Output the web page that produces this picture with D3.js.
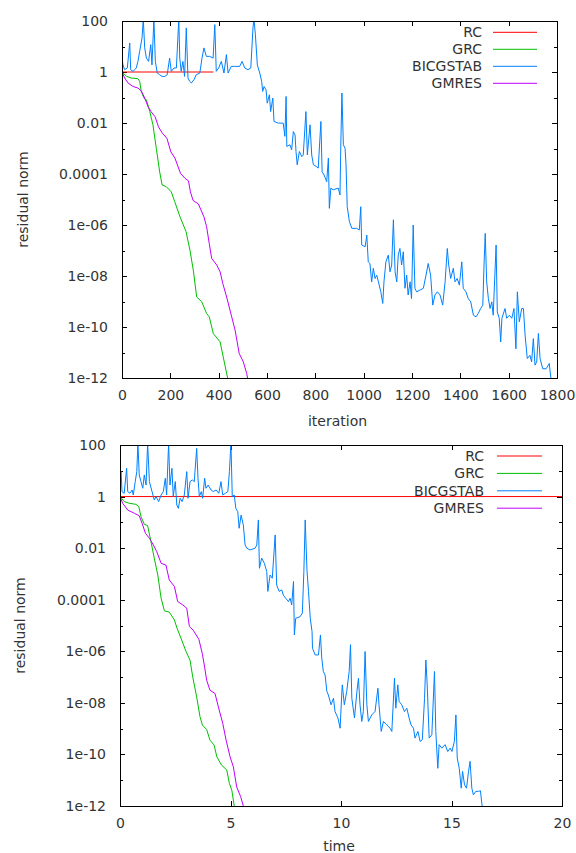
<!DOCTYPE html>
<html><head><meta charset="utf-8">
<script src="https://cdn.jsdelivr.net/npm/d3@7"></script>
<style>
body{margin:0;background:#fff}
svg{display:block}
</style>
</head><body>
<svg id="chart" width="576" height="853"></svg>
<script>
// ---------- DATA ----------
const seriesNames = ["RC","GRC","BICGSTAB","GMRES"];
const iterTicks = [0,200,400,600,800,1000,1200,1400,1600,1800];
const timeTicks = [0,5,10,15,20];
const yTickValues = [1e2,1e1,1,1e-1,1e-2,1e-3,1e-4,1e-5,1e-6,1e-7,1e-8,1e-9,1e-10,1e-11,1e-12];
const yLabelValues = [1e2,1,1e-2,1e-4,1e-6,1e-8,1e-10,1e-12];
const yLabelText = ["100","1","0.01","0.0001","1e-06","1e-08","1e-10","1e-12"];

// residual vs iteration
const rcIter = [0,378];
const rcIterRes = [1,1];
const grcIter = [0,18,38,66,73,80,91,101,115,128,142,156,166,183,204,218,240,265,281,295,309,330,350,361,378,406,419,437,445];
const grcIterRes = [1,0.68,0.58,0.55,0.43,0.17,0.095,0.081,0.028,8.5e-3,1e-3,1.2e-4,3.7e-5,3.2e-5,2e-5,8.3e-6,2.1e-6,5.5e-7,1.05e-7,1.7e-8,1.5e-9,9.7e-10,3.4e-10,2.5e-10,5.5e-11,2.6e-11,6.6e-12,1e-12,5e-13];
const bicgIter = [0,4,11,22,32,36,46,59,66,73,83,88,94,101,110,119,124,132,138,146,156,166,177,187,197,204,215,225,235,239,245,252,259,266,273,280,287,298,307,322,331,339,349,363,377,384,390,400,411,422,432,439,452,466,487,497,508,521,533,542,546,552,560,570,
578,582,588,596,601,610,615,624,629,647,667,674,679,682,695,702,709,716,720,725,734,744,750,761,767,778,785,792,803,812,823,828,836,847,854,858,864,874,895,902,906,910,916,923,927,932,941,951,971,982,988,992,1006,1013,1019,1026,1033,1040,1047,1054,1061,1071,1079,1084,1092,1102,1109,1116,1123,1130,1137,1143,1150,1157,1164,1171,1178,1184,1192,1198,1205,1212,1219,1233,1247,1258,1267,1277,1286,1295,1305,1316,1327,1337,1346,1352,1360,1371,1378,1387,1396,1406,1412,1423,1433,1443,1454,1465,1474,1484,1493,1498,1503,1509,1516,1523,1530,1536,1548,1553,1561,1567,1572,1585,1592,1603,1613,1622,1630,1636,1644,1654,1661,1668,1677,1688,1695,1702,1709,1716,1723,1730,1741,1755,1768,1774,1779];
const bicgIterRes = [3.5,1.9,1.23,1.44,13.8,1.23,1.06,1.44,2.6,6.4,21.7,120,8.8,3.5,2.6,11.8,1.9,120,2.6,0.91,0.78,0.67,0.67,0.78,3.5,1.06,1.44,1.44,120,3.5,1.06,2.6,0.67,53.6,0.58,0.43,0.37,0.5,0.78,0.91,3.5,8.8,4.1,4.1,3.5,72,1.06,1.44,2.6,0.91,4.8,0.91,1.66,1.66,1.66,2.6,1.44,1.23,1.44,53.6,120,29,1.9,0.91,
0.43,0.173,0.27,0.2,0.06,0.128,0.028,0.095,0.0115,0.0099,0.0099,0.003,0.11,0.0012,0.0014,8.9e-4,4.6e-3,3.4e-3,7.6e-4,2.3e-4,7.6e-4,4.8e-4,5.6e-4,0.028,5.6e-4,8.5e-3,5.6e-4,2.3e-4,2e-4,1.7e-4,0.0115,1.24e-4,9.2e-5,5e-5,4.2e-4,4.5e-6,2.8e-5,2.4e-5,2.8e-5,1.5e-5,2.6e-3,0.15,1.4e-3,1.03e-3,2.3e-4,5.2e-6,1.35e-6,7.4e-7,7.4e-7,6.4e-7,5.2e-6,1.64e-7,1.4e-7,4e-7,3.6e-8,3.1e-8,5.9e-9,2e-8,8e-9,1.08e-8,5.9e-9,2.4e-9,8.4e-10,5.9e-9,3.6e-8,6.6e-8,1.46e-8,2.7e-8,1.6e-6,1.46e-8,5.9e-9,6.6e-8,1.2e-7,2.7e-8,8.9e-8,3.3e-9,1.08e-8,1.8e-9,5.9e-9,1.3e-9,1e-6,3.3e-9,2.4e-9,2.8e-9,3.3e-9,1.08e-8,3.1e-8,1.08e-8,7.2e-10,1.8e-9,2.4e-9,1.8e-9,7.2e-10,5.9e-9,1.2e-7,2.7e-8,8e-9,2e-8,5.9e-9,8e-9,4.4e-9,3.6e-8,3.3e-9,2.4e-9,1.3e-9,9.7e-10,2.9e-10,2.5e-10,3.4e-10,5.3e-10,7.2e-10,2.7e-8,4.7e-7,5.9e-9,1.3e-9,5.3e-10,9.7e-10,2.9e-10,1.64e-7,3.9e-10,2.2e-10,2.6e-11,2.2e-10,5.3e-10,2.2e-10,2.9e-10,2.2e-10,5.3e-10,1.4e-11,2.4e-9,1.6e-10,5.3e-10,5.3e-10,4.8e-11,5.8e-12,7.8e-12,4.3e-12,3.5e-11,3.2e-12,4.3e-12,5.6e-11,5.8e-12,2.3e-12,2.3e-12,3.7e-12,1.1e-12,8e-13];
const gmresIter = [0,11,25,46,66,80,94,108,120,137,151,166,186,202,219,242,261,275,283,294,316,339,350,361,371,392,406,417,433,454,468,485,502,516,520,528];
const gmresIterRes = [1,0.58,0.37,0.27,0.235,0.18,0.095,0.043,0.028,0.0175,7.1e-3,4.1e-3,2.5e-3,7.4e-4,4.2e-4,1.07e-4,6.7e-5,5.4e-5,2e-5,9.2e-6,6.7e-6,2.1e-6,8.6e-7,1.9e-7,4.9e-8,2.7e-8,1.46e-8,5.1e-9,1.5e-9,2.5e-10,7.5e-11,9.1e-12,4.3e-12,1.5e-12,9.6e-13,5e-13];

// residual vs time
const rcTime = [0,20];
const rcTimeRes = [1,1];
const grcTime = [0,0.19,0.42,0.72,0.85,0.95,1.1,1.25,1.4,1.55,1.71,1.86,2.01,2.23,2.46,2.58,2.76,3.0,3.17,3.29,3.47,3.62,3.73,3.92,4.07,4.26,4.38,4.6,4.83,4.95,5.06,5.17,5.22];
const grcTimeRes = [1,0.64,0.55,0.5,0.41,0.168,0.084,0.075,0.018,4.1e-3,9.1e-4,1.14e-4,3.7e-5,3.3e-5,1.65e-5,7.9e-6,3.2e-6,9.2e-7,4.5e-7,1.02e-7,1.7e-8,2.9e-9,1.37e-9,9.3e-10,3.6e-10,2.3e-10,8.1e-11,3.8e-11,2.5e-11,7.5e-12,4.1e-12,1e-12,5e-13];
const bicgTime = [0,0.05,0.09,0.19,0.30,0.35,0.45,0.55,0.60,0.69,0.76,0.81,0.87,0.95,1.03,1.10,1.18,1.25,1.33,1.45,1.55,1.63,1.75,1.86,1.96,2.05,2.11,2.20,2.26,2.35,2.41,2.50,2.57,2.64,2.72,2.81,2.91,3.02,3.08,3.17,3.27,3.36,3.47,3.53,3.59,3.68,3.74,3.83,3.89,3.99,4.12,4.22,4.35,4.47,4.57,4.65,4.77,4.88,4.95,5.02,5.08,5.17,5.24,5.33,5.39,5.48,5.58,5.66,5.74,5.88,6.11,6.19,6.26,6.31,6.41,6.53,6.64,6.69,6.79,6.89,7.02,7.09,7.20,7.32,7.39,7.50,7.62,7.70,7.77,7.85,7.89,7.95,8.15,8.25,8.32,8.38,8.46,8.53,8.61,8.69,8.71,8.83,8.98,9.07,9.13,9.20,9.28,9.36,9.43,9.55,9.66,9.73,9.86,9.96,10.04,10.06,10.15,10.26,10.37,10.43,10.49,10.61,10.72,10.79,10.86,10.94,11.01,11.09,11.17,11.24,11.39,11.54,11.67,11.72,11.82,11.92,12.07,12.22,12.30,12.42,12.48,12.57,12.63,12.75,12.87,12.98,13.08,13.17,13.28,13.35,13.48,13.58,13.68,13.78,13.84,13.90,13.99,14.11,14.23,14.29,14.38,14.44,14.56,14.71,14.83,14.94,15.02,15.13,15.20,15.26,15.35,15.44,15.50,15.59,15.68,15.77,15.84,15.92,15.99,16.10,16.22,16.31,16.38,16.41];
const bicgTimeRes = [5.1,9.3,1.56,1.34,12.5,1.56,1.34,1.8,1.15,3.8,9.3,120,6.9,3.8,2.1,6.9,2.8,120,3.8,1.56,0.74,1.0,0.64,1.15,1.56,5.1,1.15,120,2.8,12.5,1.0,3.8,0.47,0.35,0.86,0.64,1.15,9.3,0.86,3.8,4.4,3.8,74,5.1,1.0,1.56,0.86,5.1,2.1,2.8,1.8,1.56,1.8,1.34,3.8,1.15,1.34,1.56,9.3,120,1.0,1.15,0.35,0.26,0.059,0.19,0.079,0.0133,0.0099,8.5e-3,0.0099,0.0133,0.124,1.66e-3,4.1e-3,2.6e-3,1.24e-3,2.1e-4,9.1e-4,6.8e-4,0.0325,3.7e-4,2.1e-4,2.4e-4,1.5e-4,1.14e-4,8.5e-5,1.14e-4,6.3e-5,5.1e-4,4.3e-6,1.9e-5,2.2e-5,3e-5,1.24e-3,0.124,1.43e-3,2.1e-4,1.9e-5,5.8e-6,1.32e-6,7.2e-7,7.2e-7,4.3e-6,5.4e-7,1.65e-7,1.2e-7,2.8e-8,2e-8,8.4e-9,1.5e-8,4.6e-9,2.6e-9,1.04e-9,2.8e-8,5e-8,8.4e-9,2.8e-8,1.65e-7,1.8e-6,1.5e-8,2.6e-9,2.8e-8,9e-8,8.4e-9,1.9e-9,4.6e-9,9.8e-7,8.4e-9,1.9e-9,3.4e-9,4.6e-9,3.7e-8,8.4e-9,7.8e-10,1.9e-9,1.4e-9,1.04e-9,7.8e-10,9e-8,6.2e-9,5e-8,1.13e-8,8.4e-9,4.6e-9,6.2e-9,2.6e-9,1.4e-9,1.04e-9,4.3e-10,7.8e-10,3.2e-10,3.7e-10,1.5e-8,4.6e-7,5e-8,4.3e-10,5.8e-10,1.65e-7,7.8e-10,2.9e-11,2.4e-10,1.75e-10,2.4e-10,1.3e-10,1.75e-10,1.3e-10,3.2e-10,3.4e-9,7.2e-11,2.9e-11,4.9e-12,2.2e-11,6.6e-12,4.9e-12,2.2e-11,5.4e-11,4.9e-12,2.7e-12,3.7e-12,3.7e-12,3.9e-12,1.1e-12,8e-13];
const gmresTime = [0,0.12,0.35,0.65,0.87,1.0,1.15,1.33,1.51,1.66,1.86,2.08,2.23,2.46,2.61,2.84,3.02,3.14,3.31,3.57,3.73,3.83,3.92,4.07,4.3,4.45,4.65,4.8,4.98,5.13,5.28,5.46,5.58,5.65];
const gmresTimeRes = [1,0.55,0.3,0.225,0.18,0.092,0.038,0.024,0.0133,7.4e-3,2.6e-3,2.2e-3,5.8e-4,3.3e-4,8.5e-5,6.3e-5,4.7e-5,9.1e-6,6.6e-6,2.9e-6,7.7e-7,2.4e-7,7.6e-8,3.1e-8,2.3e-8,7e-9,1.6e-9,3.6e-10,8.1e-11,3.3e-11,5.5e-12,2.3e-12,1e-12,5e-13];

// ---------- STYLE / LAYOUT ----------
const seriesColors = ["#ff0000","#00c000","#0080ff","#c000ff"];
const FONT = "'DejaVu Sans', sans-serif";
const TEXT_COLOR = "#333";

const panels = [
  { id:"top", l:122, r:557, t:21, b:378, xDomain:[0,1800], xTicks:iterTicks, xLabel:"iteration",
    titleX:28, xLabelY:426,
    series:[[rcIter,rcIterRes],[grcIter,grcIterRes],[bicgIter,bicgIterRes],[gmresIter,gmresIterRes]],
    legTextX:482, legX1:493, legX2:537, legY:32.3, legDy:17 },
  { id:"bot", l:120, r:562, t:445, b:806, xDomain:[0,20], xTicks:timeTicks, xLabel:"time",
    titleX:25, xLabelY:851,
    series:[[rcTime,rcTimeRes],[grcTime,grcTimeRes],[bicgTime,bicgTimeRes],[gmresTime,gmresTimeRes]],
    legTextX:484, legX1:497, legX2:542, legY:456, legDy:17.4 }
];

const svg = d3.select("#chart");
const defs = svg.append("defs");

function styleAxis(g, showText){
  g.select(".domain").remove();
  g.selectAll(".tick line").attr("stroke","#000").attr("shape-rendering","crispEdges");
  g.selectAll(".tick text").attr("fill",TEXT_COLOR).attr("font-size",14).attr("font-family",FONT);
  if(!showText) g.selectAll(".tick text").remove();
}

panels.forEach(p => {
  const x = d3.scaleLinear().domain(p.xDomain).range([p.l, p.r]);
  const y = d3.scaleLog().domain([1e-12, 100]).range([p.b, p.t]);
  const g = svg.append("g");

  defs.append("clipPath").attr("id","clip-"+p.id)
    .append("rect").attr("x",p.l).attr("y",p.t).attr("width",p.r-p.l).attr("height",p.b-p.t);

  const minorVals = yTickValues.filter(v => !yLabelValues.includes(v));

  // left axis
  g.append("g").attr("transform",`translate(${p.l},0)`)
    .call(d3.axisLeft(y).tickValues(yLabelValues).tickFormat((d,i)=>yLabelText[i]).tickSizeInner(-5).tickSizeOuter(0).tickPadding(14))
    .call(a=>styleAxis(a,true));
  g.append("g").attr("transform",`translate(${p.l},0)`)
    .call(d3.axisLeft(y).tickValues(minorVals).tickFormat(()=>"").tickSizeInner(-3).tickSizeOuter(0))
    .call(a=>styleAxis(a,false));
  // right mirror
  g.append("g").attr("transform",`translate(${p.r},0)`)
    .call(d3.axisRight(y).tickValues(yLabelValues).tickFormat(()=>"").tickSizeInner(-5).tickSizeOuter(0))
    .call(a=>styleAxis(a,false));
  g.append("g").attr("transform",`translate(${p.r},0)`)
    .call(d3.axisRight(y).tickValues(minorVals).tickFormat(()=>"").tickSizeInner(-3).tickSizeOuter(0))
    .call(a=>styleAxis(a,false));
  // bottom axis
  g.append("g").attr("transform",`translate(0,${p.b})`)
    .call(d3.axisBottom(x).tickValues(p.xTicks).tickFormat(d3.format("d")).tickSizeInner(-5).tickSizeOuter(0).tickPadding(12))
    .call(a=>styleAxis(a,true));
  // top mirror
  g.append("g").attr("transform",`translate(0,${p.t})`)
    .call(d3.axisTop(x).tickValues(p.xTicks).tickFormat(()=>"").tickSizeInner(-5).tickSizeOuter(0))
    .call(a=>styleAxis(a,false));

  // data lines
  const line = d3.line().x(d=>x(d[0])).y(d=>y(d[1]));
  const lg = g.append("g").attr("clip-path",`url(#clip-${p.id})`);
  p.series.forEach((s,i) => {
    lg.append("path").datum(d3.zip(s[0], s[1]))
      .attr("d", line).attr("fill","none")
      .attr("stroke", seriesColors[i]).attr("stroke-width",1)
      .attr("stroke-linejoin","round");
  });

  // frame
  g.append("rect").attr("x",p.l).attr("y",p.t).attr("width",p.r-p.l).attr("height",p.b-p.t)
    .attr("fill","none").attr("stroke","#000").attr("stroke-width",1).attr("shape-rendering","crispEdges");

  // legend
  const leg = g.append("g");
  seriesNames.forEach((n,i) => {
    const yy = p.legY + i*p.legDy;
    leg.append("text").attr("x",p.legTextX).attr("y",yy).attr("dy","0.36em")
      .attr("text-anchor","end").attr("font-size",14).attr("font-family",FONT).attr("fill",TEXT_COLOR).text(n);
    leg.append("line").attr("x1",p.legX1).attr("x2",p.legX2).attr("y1",yy).attr("y2",yy)
      .attr("stroke",seriesColors[i]).attr("stroke-width",1);
  });

  // axis titles
  g.append("text").attr("transform",`translate(${p.titleX},${(p.t+p.b)/2}) rotate(-90)`)
    .attr("text-anchor","middle").attr("font-size",14).attr("font-family",FONT).attr("fill",TEXT_COLOR)
    .text("residual norm");
  g.append("text").attr("x",(p.l+p.r)/2 - 2).attr("y",p.xLabelY)
    .attr("text-anchor","middle").attr("font-size",14).attr("font-family",FONT).attr("fill",TEXT_COLOR)
    .text(p.xLabel);
});
</script>
</body></html>
